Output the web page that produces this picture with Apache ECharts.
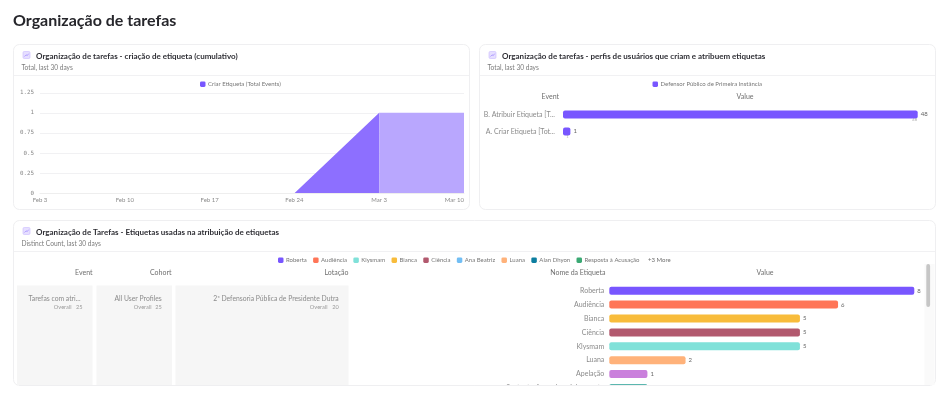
<!DOCTYPE html>
<html><head><meta charset="utf-8">
<script src="https://cdn.jsdelivr.net/npm/echarts@6/dist/echarts.min.js"></script>
<style>html,body{margin:0;padding:0;background:#fff;overflow:hidden}#c{width:945px;height:395px;filter:blur(.35px)}</style>
</head><body><div id="c"></div>
<script>
// Chart 1
const weekLabels = ['Feb 3','Feb 10','Feb 17','Feb 24','Mar 3','Mar 10'];
const cumulativeComplete = [0,0,0,0,1,null];
const cumulativePartial = [null,null,null,null,1,1];
const yTickInterval = 0.25, yMax = 1.25;
// Chart 2
const eventLabels = ['B. Atribuir Etiqueta [T...','A. Criar Etiqueta [Tot...'];
const eventValues = [48,1];
// Chart 3 (the last row is almost fully cut off in the reference; its name is an estimate)
const tagRows = ['Roberta','Audiência','Bianca','Ciência','Klysmam','Luana','Apelação','Sustentação oral em julgamento'];
const tagValues = [8,6,5,5,5,2,1,1];
const legendTags = ['Roberta','Audiência','Klysmam','Bianca','Ciência','Ana Beatriz','Luana','Alan Dhyon','Resposta à Acusação'];
const tagColors = {'Roberta':'#7856FF','Audiência':'#FF7557','Klysmam':'#80E1D9','Bianca':'#F8BC3B','Ciência':'#B2596E','Ana Beatriz':'#72BEF4','Luana':'#FFB27A','Alan Dhyon':'#0D7EA0','Resposta à Acusação':'#3BA974','Apelação':'#CA80DC','Sustentação oral em julgamento':'#5BB7AF'};

const FONT='Lato, "Open Sans", sans-serif', PURPLE='#7856FF', GREY='#8b8b8b', DARK='#2f2f35';
const chart=echarts.init(document.getElementById('c'),null,{renderer:'canvas'});
const text=(x,y,t,o={})=>({type:'text',x,y,silent:true,z:o.z||5,style:{text:t,fontFamily:o.ff||FONT,fontSize:o.s||7,fontWeight:o.w||400,fill:o.c||GREY,align:o.a||'left',verticalAlign:'middle'}});
const rect=(x,y,w,h,o={})=>({type:'rect',silent:true,z:o.z||1,shape:{x,y,width:w,height:h,r:o.r||0},style:{fill:o.f||'#fff',stroke:o.st||null,lineWidth:o.lw||1}});
const line=(x1,y,x2)=>({type:'line',silent:true,z:2,shape:{x1,y1:y,x2,y2:y},style:{stroke:'#f1f1f3',lineWidth:1}});
const icon=(x,y)=>[rect(x,y,7,7,{f:'#e6dfff',st:'#c9bbff',lw:.6,r:1.2,z:3}),
 {type:'polyline',silent:true,z:4,shape:{points:[[x+1.5,y+5],[x+3,y+3.4],[x+4.3,y+4],[x+5.6,y+2.2]]},style:{stroke:'#8f75ff',fill:null,lineWidth:.6}}];
const card=(x,y,w,h,hy,title,sub)=>[rect(x,y,w,h,{st:'#efeff1',r:6}),line(x+.5,hy,x+w-.5),...icon(x+9.5,y+7),
 text(x+22.5,y+12,title,{s:8,w:700,c:DARK}),text(x+8,y+23.5,sub,{s:6.6,c:'#7b7b7b'})];

const graphic=[
 text(13,20.5,'Organização de tarefas',{s:16,w:700,c:'#26262b'}),
 ...card(13.5,44.5,456,165,75.5,'Organização de tarefas - criação de etiqueta (cumulativo)','Total, last 30 days'),
 ...card(479.5,44.5,456,165,75.5,'Organização de tarefas - perfis de usuários que criam e atribuem etiquetas','Total, last 30 days'),
 ...card(13.5,220.5,922,165,251.5,'Organização de Tarefas - Etiquetas usadas na atribuição de etiquetas','Distinct Count, last 30 days'),
 text(559,97,'Event',{a:'right',c:'#6f6f6f'}),text(745,97,'Value',{a:'center',c:'#6f6f6f'}),
 text(92.5,273,'Event',{a:'right',c:'#6f6f6f'}),text(171.5,273,'Cohort',{a:'right',c:'#6f6f6f'}),
 text(348.5,273,'Lotação',{a:'right',c:'#6f6f6f'}),text(605.5,273,'Nome da Etiqueta',{a:'right',c:'#6f6f6f'}),
 text(765,273,'Value',{a:'center',c:'#6f6f6f'}),
 rect(17,285.5,75.5,100,{f:'#f6f6f6',z:2}),rect(96.5,285.5,75.5,100,{f:'#f6f6f6',z:2}),rect(175.5,285.5,173,100,{f:'#f6f6f6',z:2}),
 text(80.5,298.7,'Tarefas com atri...',{a:'right',s:6.8}),text(161.7,298.7,'All User Profiles',{a:'right',s:6.8}),text(338.7,298.7,'2ª Defensoria Pública de Presidente Dutra',{a:'right',s:6.8}),
 text(71.5,307.5,'Overall',{a:'right',s:5.6,c:'#9a9a9a'}),text(82.5,307.5,'25',{a:'right',s:5.6,c:'#9a9a9a'}),
 text(151.5,307.5,'Overall',{a:'right',s:5.6,c:'#9a9a9a'}),text(161.7,307.5,'25',{a:'right',s:5.6,c:'#9a9a9a'}),
 text(327.5,307.5,'Overall',{a:'right',s:5.6,c:'#9a9a9a'}),text(338.7,307.5,'20',{a:'right',s:5.6,c:'#9a9a9a'}),
 text(648,260,'+3 More',{s:6,c:'#6f6f6f'}),
 rect(924.5,264,10,121,{f:'#fafafa',z:2}),rect(926.3,264,3.8,43,{f:'#c6c6c6',r:1.9,z:3}),
 // hides what scrolls below the third card
 rect(0,385.8,945,10,{f:'#fff',z:50}),
 {type:'line',silent:true,z:51,shape:{x1:19,y1:385.5,x2:930,y2:385.5},style:{stroke:'#efeff1',lineWidth:1}}
];
const tagSeries=legendTags.concat(tagRows.filter(n=>!legendTags.includes(n))).map(name=>({
 type:'bar',name,stack:'tags',xAxisIndex:2,yAxisIndex:2,barWidth:8,z:5,
 itemStyle:{color:tagColors[name],borderRadius:2},
 label:{show:true,position:'right',distance:3,fontSize:6,fontFamily:FONT,color:'#666'},
 data:tagRows.map((r,i)=>r===name?tagValues[i]:null)
}));
const hiddenAxis={axisLine:{show:false},axisTick:{show:false}};
const legendBase={orient:'horizontal',itemWidth:5.5,itemHeight:5.5,icon:'roundRect',selectedMode:false,padding:0,
 textStyle:{fontFamily:FONT,fontSize:6,color:'#777',padding:[0,0,0,-2.5]}};
chart.setOption({
 animation:false,backgroundColor:'#fff',graphic:{elements:graphic},
 legend:[
  {...legendBase,data:['Criar Etiqueta (Total Events)'],left:200,top:81.2},
  {...legendBase,data:['Defensor Público de Primeira Instância'],left:652.5,top:81.2},
  {...legendBase,data:legendTags,left:278,top:257.2,itemGap:6.3}
 ],
 grid:[
  {left:40,top:92.75,width:424,height:100.5},
  {left:563,top:106,width:354.7,height:34},
  {left:609.3,top:283.75,width:305,height:111.2}
 ],
 xAxis:[
  {gridIndex:0,z:3,type:'category',boundaryGap:false,data:weekLabels,...hiddenAxis,axisLine:{show:true,lineStyle:{color:'#eeeeee'}},
   axisLabel:{fontFamily:FONT,fontSize:6,color:GREY,margin:4,interval:0,alignMaxLabel:'right'}},
  {gridIndex:1,type:'value',min:0,max:48,show:false},
  {gridIndex:2,type:'value',min:0,max:8,show:false}
 ],
 yAxis:[
  {gridIndex:0,z:3,type:'value',min:0,max:yMax,interval:yTickInterval,...hiddenAxis,
   splitLine:{lineStyle:{color:'#f1f1f3'}},axisLabel:{fontFamily:'"DejaVu Sans Mono",monospace',fontSize:5.8,color:'#888',margin:6}},
  {gridIndex:1,z:3,type:'category',inverse:true,data:eventLabels,...hiddenAxis,axisLabel:{fontFamily:FONT,fontSize:7,color:GREY,margin:8,interval:0}},
  {gridIndex:2,z:3,type:'category',inverse:true,data:tagRows,...hiddenAxis,axisLabel:{fontFamily:FONT,fontSize:7,color:GREY,margin:5,interval:0}}
 ],
 series:[
  {type:'line',name:'Criar Etiqueta (Total Events)',xAxisIndex:0,yAxisIndex:0,symbol:'none',data:cumulativeComplete,color:PURPLE,
   lineStyle:{width:0},areaStyle:{color:'#8d6fff',opacity:1},z:3},
  {type:'line',name:'Criar Etiqueta (parcial)',xAxisIndex:0,yAxisIndex:0,symbol:'none',data:cumulativePartial,color:PURPLE,
   lineStyle:{width:0},areaStyle:{color:'#b9a7fe',opacity:1},z:3},
  {type:'bar',name:'Defensor Público de Primeira Instância',xAxisIndex:1,yAxisIndex:1,barWidth:8,color:PURPLE,z:4,
   itemStyle:{borderRadius:2},data:eventValues,
   label:{show:true,position:'right',distance:3,fontSize:6,fontFamily:FONT,color:'#666'}},
  {type:'scatter',name:'total',xAxisIndex:1,yAxisIndex:1,symbolSize:0,z:4,data:eventValues.map((v,i)=>[v-0.4,eventLabels[i]]),
   label:{show:true,position:'bottom',distance:3,fontSize:4.2,fontFamily:FONT,color:'#999',formatter:p=>Math.round(p.value[0]+0.4)}},
  ...tagSeries
 ]
});
</script></body></html>
